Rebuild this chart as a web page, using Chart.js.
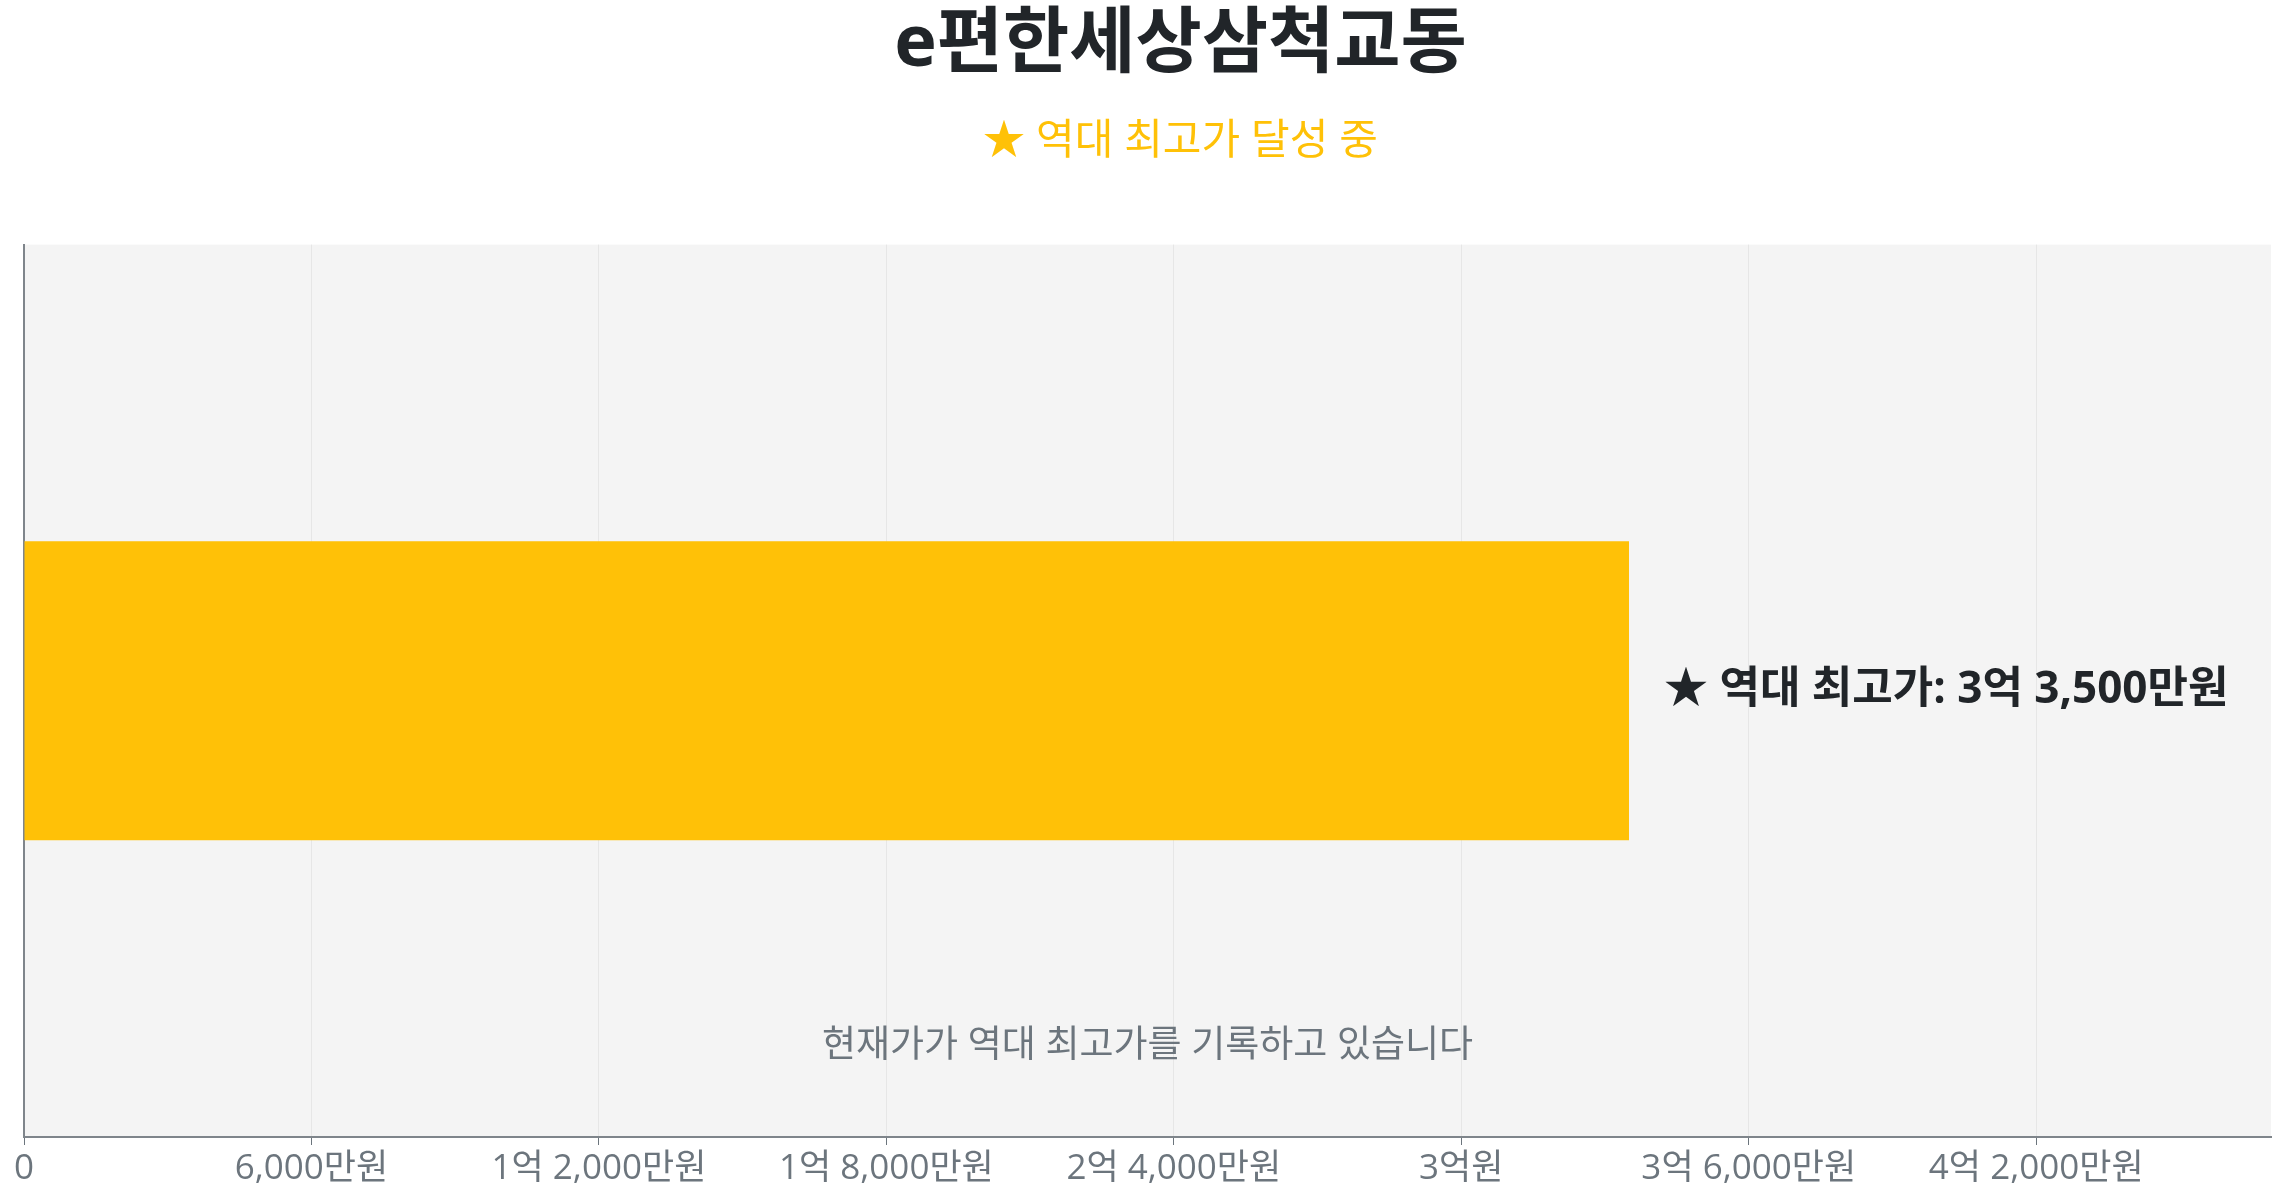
<!DOCTYPE html>
<html lang="ko">
<head>
<meta charset="utf-8">
<script src="https://cdn.jsdelivr.net/npm/chart.js@4.4.1/dist/chart.umd.min.js"></script>
<style>
  html, body { margin: 0; padding: 0; background: #fff; }
  #wrap { width: 2287px; height: 1200px; }
</style>
</head>
<body>
<div id="wrap"><canvas id="chart"></canvas></div>
<script>
// 단위: 만원
const complexNames = ['e편한세상삼척교동'];
const currentPrice = [33500];
const allTimeHigh = 33500;
const axisMax = 46900;
const tickValues = [0, 6000, 12000, 18000, 24000, 30000, 36000, 42000];

const titleText = 'e편한세상삼척교동';
const subtitleText = '★ 역대 최고가 달성 중';
const barLabelText = '★ 역대 최고가: ';
const noteText = '현재가가 역대 최고가를 기록하고 있습니다';

const FONT = "'Open Sans', 'Noto Sans CJK KR', sans-serif";

function formatManwon(v) {
    if (v === 0) return '0';
    const eok = Math.floor(v / 10000);
    const man = v % 10000;
    let s = '';
    if (eok > 0) s += eok + '억';
    if (man > 0) s += (s ? ' ' : '') + man.toLocaleString('en-US') + '만원';
    else s += '원';
    return s;
}

// 차트 영역 배경
const plotBackground = {
    id: 'plotBackground',
    beforeDraw(chart) {
        const { ctx, chartArea } = chart;
        ctx.save();
        ctx.fillStyle = '#f4f4f4';
        ctx.fillRect(chartArea.left, chartArea.top, chartArea.right - chartArea.left, chartArea.bottom - chartArea.top);
        ctx.restore();
    }
};

// 제목 블록을 약간 오른쪽으로
const titleShift = {
    id: 'titleShift',
    afterLayout(chart) {
        chart.boxes.forEach((b) => {
            if (b.position === 'top') b.left += 74;
        });
    }
};

// 막대 옆 라벨 + 하단 안내문
const annotations = {
    id: 'annotations',
    afterDatasetsDraw(chart) {
        const { ctx, chartArea } = chart;
        const bar = chart.getDatasetMeta(0).data[0];
        ctx.save();
        ctx.font = 'bold 44px ' + FONT;
        ctx.fillStyle = '#212529';
        ctx.textAlign = 'left';
        ctx.textBaseline = 'middle';
        ctx.fillText(barLabelText + formatManwon(allTimeHigh), bar.x + 35, bar.y);

        ctx.font = '37px ' + FONT;
        ctx.fillStyle = '#6c757d';
        ctx.textAlign = 'center';
        ctx.fillText(noteText, (chartArea.left + chartArea.right) / 2, 1046);
        ctx.restore();
    }
};

const ctx = document.getElementById('chart').getContext('2d');
new Chart(ctx, {
    type: 'bar',
    data: {
        labels: complexNames,
        datasets: [{
            label: '현재가',
            data: currentPrice,
            backgroundColor: '#ffc107',
            borderWidth: 0,
            categoryPercentage: 1,
            barPercentage: 0.335,
        }],
    },
    options: {
        indexAxis: 'y',
        responsive: true,
        maintainAspectRatio: false,
        animation: false,
        layout: { padding: { left: 16, right: 16, top: 0, bottom: 7 } },
        plugins: {
            legend: { display: false },
            tooltip: { enabled: false },
            title: {
                display: true,
                text: titleText,
                color: '#212529',
                font: { family: FONT, size: 72, weight: 'bold', lineHeight: 1.1 },
                padding: { top: 6, bottom: 32 },
            },
            subtitle: {
                display: true,
                text: subtitleText,
                color: '#ffc107',
                font: { family: FONT, size: 42 },
                padding: { top: 0, bottom: 77 },
            },
        },
        scales: {
            x: {
                min: 0,
                max: axisMax,
                afterBuildTicks: (axis) => {
                    axis.ticks = tickValues.map((v) => ({ value: v }));
                },
                ticks: {
                    color: '#6c757d',
                    font: { family: FONT, size: 35 },
                    padding: 3,
                    maxRotation: 0,
                    autoSkip: false,
                    callback: (v) => formatManwon(v),
                },
                grid: { color: '#e6e6e6', tickColor: '#6c757d', tickLength: 8, lineWidth: 1 },
                border: { color: '#7f858b', width: 2 },
            },
            y: {
                ticks: { display: false },
                grid: { display: false },
                border: { display: true, color: '#7f858b', width: 2 },
            },
        },
    },
    plugins: [plotBackground, titleShift, annotations],
});
</script>
</body>
</html>
